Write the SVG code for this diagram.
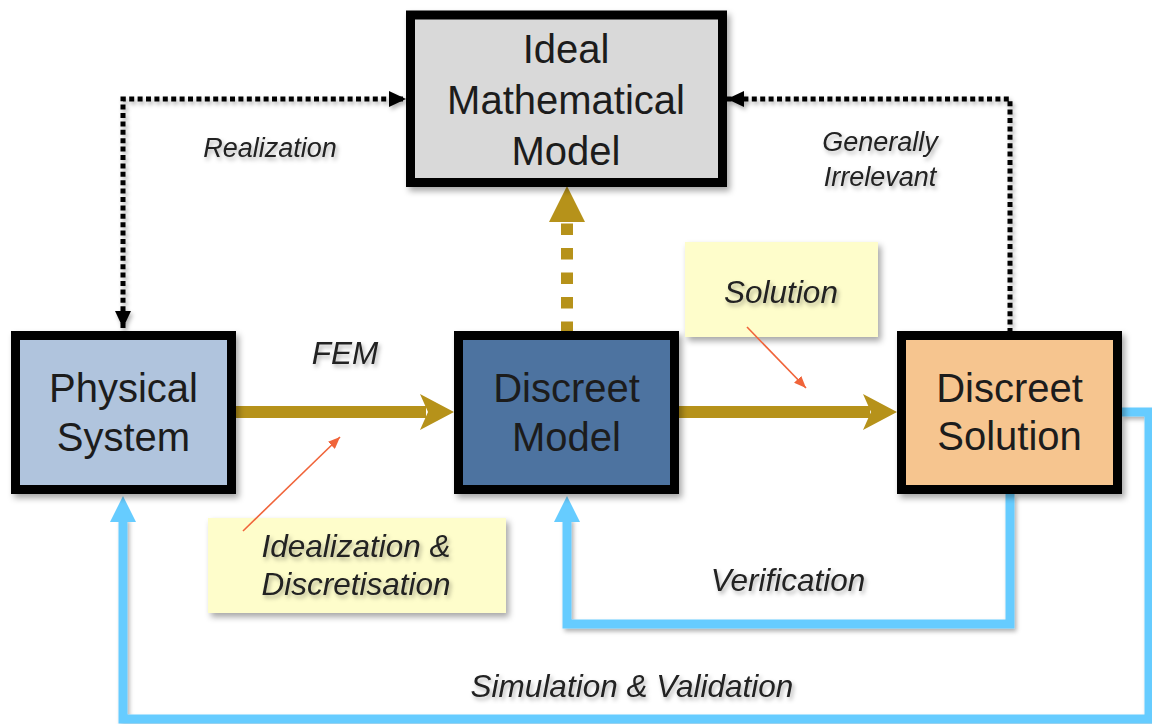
<svg xmlns="http://www.w3.org/2000/svg" width="1152" height="724" viewBox="0 0 1152 724">
<style>
.box{stroke:#000;stroke-width:9;filter:url(#sh)}
.nt{font-family:"Liberation Sans",Arial,sans-serif;font-size:40px;fill:#1c1c1c;text-anchor:middle}
.lb{font-family:"Liberation Sans",Arial,sans-serif;font-style:italic;font-size:31.5px;fill:#222;text-anchor:middle;filter:url(#tsh)}
.sm{font-size:27px}
.dot{fill:none;stroke:#000;stroke-width:5;stroke-dasharray:5 3.4;filter:url(#lsh)}
.gold{fill:none;stroke:#b6921a;stroke-width:12}
.blue{fill:none;stroke:#66ccff;stroke-width:9;filter:url(#lsh)}
.note{fill:#fefdcb;filter:url(#sh)}
.ann{stroke:#f0643a;stroke-width:1.6;fill:none}
</style>
<defs>
<filter id="sh" x="-10%" y="-10%" width="125%" height="125%"><feDropShadow dx="3" dy="4" stdDeviation="3" flood-color="#000" flood-opacity="0.35"/></filter>
<filter id="lsh" x="-10%" y="-10%" width="125%" height="125%"><feDropShadow dx="2" dy="3" stdDeviation="2" flood-color="#000" flood-opacity="0.3"/></filter>
<filter id="tsh" x="-10%" y="-20%" width="125%" height="150%"><feDropShadow dx="2" dy="3" stdDeviation="2" flood-color="#000" flood-opacity="0.3"/></filter>
<marker id="ab" markerUnits="userSpaceOnUse" viewBox="0 0 17 16" markerWidth="17" markerHeight="16" refX="17" refY="8" orient="auto-start-reverse"><path d="M0,0 L17,8 L0,16 z" fill="#000"/></marker>
<marker id="ao" markerUnits="userSpaceOnUse" viewBox="0 0 12 10" markerWidth="12" markerHeight="10" refX="12" refY="5" orient="auto"><path d="M0,0 L12,5 L0,10 z" fill="#f0643a"/></marker>
</defs>

<g id="connectors">
  <path id="realization" class="dot" d="M123,328 V99 H406" marker-start="url(#ab)" marker-end="url(#ab)"/>
  <path id="irrelevant" class="dot" d="M1010,333 V99 H727" marker-end="url(#ab)"/>
  <g id="gold-up">
    <path class="gold" d="M567,333 V222" stroke-dasharray="11.5 13"/>
    <polygon points="567,186 549,222 585,222" fill="#b6921a"/>
  </g>
  <g id="fem">
    <path class="gold" d="M236,412 H426"/>
    <polygon points="454,412 420,394 428,412 420,430" fill="#b6921a"/>
  </g>
  <g id="solution-arrow">
    <path class="gold" d="M679,412 H870"/>
    <polygon points="897,412 863,394 871,412 863,430" fill="#b6921a"/>
  </g>
  <g id="verification">
    <path class="blue" d="M1010,494 V624 H567 V518"/>
    <polygon points="567,496 554,522 580,522" fill="#66ccff"/>
  </g>
  <g id="simulation">
    <path class="blue" d="M1122,412 H1149 V719 H123 V518"/>
    <polygon points="123,496 110,522 136,522" fill="#66ccff"/>
  </g>
</g>

<g id="ideal">
  <rect class="box" x="410.5" y="15" width="312" height="167.5" fill="#d9d9d9"/>
  <text class="nt" x="566" y="63">Ideal</text>
  <text class="nt" x="566" y="114">Mathematical</text>
  <text class="nt" x="566" y="165">Model</text>
</g>
<g id="physical">
  <rect class="box" x="15.5" y="335.5" width="216" height="154" fill="#b0c4dd"/>
  <text class="nt" x="123.5" y="402">Physical</text>
  <text class="nt" x="123.5" y="451">System</text>
</g>
<g id="discreet-model">
  <rect class="box" x="458.5" y="335.5" width="216" height="154" fill="#4e73a0"/>
  <text class="nt" x="566.5" y="402">Discreet</text>
  <text class="nt" x="566.5" y="451">Model</text>
</g>
<g id="discreet-solution">
  <rect class="box" x="901.5" y="335.5" width="216" height="154" fill="#f6c58f"/>
  <text class="nt" x="1009.5" y="402">Discreet</text>
  <text class="nt" x="1009.5" y="450">Solution</text>
</g>

<g id="note-solution">
  <rect class="note" x="685" y="242" width="193" height="95"/>
  <text class="lb" x="781" y="303">Solution</text>
  <path class="ann" d="M747,327 L806,388" marker-end="url(#ao)"/>
</g>
<g id="note-idealization">
  <rect class="note" x="208" y="518" width="298" height="95"/>
  <text class="lb" x="356" y="557">Idealization &amp;</text>
  <text class="lb" x="356" y="595">Discretisation</text>
  <path class="ann" d="M243,531 L340,437" marker-end="url(#ao)"/>
</g>

<g id="labels">
  <text class="lb sm" x="270" y="157">Realization</text>
  <text class="lb sm" x="880" y="151">Generally</text>
  <text class="lb sm" x="880" y="186">Irrelevant</text>
  <text class="lb" x="345" y="364">FEM</text>
  <text class="lb" x="788" y="591">Verification</text>
  <text class="lb" x="632" y="697">Simulation &amp; Validation</text>
</g>
</svg>
